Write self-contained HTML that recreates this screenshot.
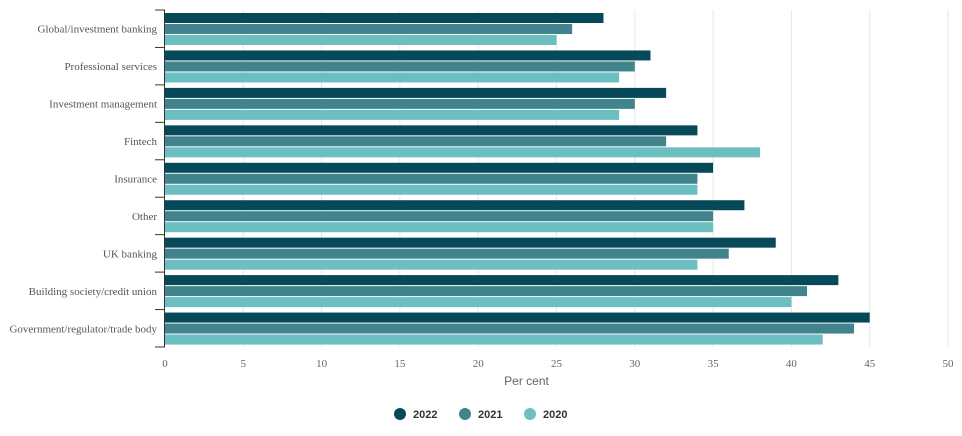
<!DOCTYPE html>
<html><head><meta charset="utf-8"><style>
body{margin:0;background:#fff;width:962px;height:431px;overflow:hidden}
svg text{font-family:"Liberation Serif",serif}
</style></head><body>
<svg id="chart" width="962" height="431"></svg>
<script>
const categories=["Global/investment banking","Professional services","Investment management","Fintech","Insurance","Other","UK banking","Building society/credit union","Government/regulator/trade body"];
const series2022=[28,31,32,34,35,37,39,43,45];
const series2021=[26,30,30,32,34,35,36,41,44];
const series2020=[25,29,29,38,34,35,34,40,42];
const seriesNames=["2022","2021","2020"];
const xTicks=[0,5,10,15,20,25,30,35,40,45,50];
const colors=["#064a5a","#41848e","#6cbfc0"];
const svg=document.getElementById('chart');
const NS="http://www.w3.org/2000/svg";
const x0=165,x1=948,top0=10,bot=347;
const xs=v=>x0+(v-0)/(50-0)*(x1-x0);
const band=(bot-top0)/categories.length;
function mk(t,a,p){const e=document.createElementNS(NS,t);for(const k in a)e.setAttribute(k,a[k]);(p||svg).appendChild(e);return e;}
xTicks.forEach(t=>{
  if(t>0){const g=mk('line',{x1:xs(t),x2:xs(t),y1:top0,y2:bot,stroke:'#e6e6e6','stroke-width':1});
  
  }
  const tx=mk('text',{x:xs(t),y:367,'text-anchor':'middle','font-size':11,fill:'#666'});
  tx.textContent=t;
  
  
});
const all=[series2022,series2021,series2020];
categories.forEach((c,i)=>{
  const y=top0+i*band;
  all.forEach((s,j)=>{
    const r=mk('rect',{x:x0,y:y+3+j*11,width:xs(s[i])-x0,height:10,fill:colors[j]});
    
    
  });
  const l=mk('text',{x:157,y:y+band/2+4,'text-anchor':'end','font-size':11,fill:'#555'});
  l.textContent=c;
  
  
});
for(let i=0;i<=categories.length;i++){
  const y=top0+i*band;
  const t=mk('line',{x1:155,x2:165,y1:y,y2:y,stroke:'#333','stroke-width':1});
  
  
}
const ax=mk('line',{x1:164.5,x2:164.5,y1:top0,y2:bot,stroke:'#333','stroke-width':1});


const xt=mk('text',{x:(x0+x1)/2-30,y:385,'text-anchor':'middle','font-size':12,fill:'#666','font-family':'Liberation Sans'});
xt.setAttribute('style','font-family:"Liberation Sans",sans-serif');
xt.textContent="Per cent";


const lx=[400,465,530];
seriesNames.forEach((n,j)=>{
  const c=mk('circle',{cx:lx[j],cy:414,r:6,fill:colors[j]});
  
  
  const t=mk('text',{x:lx[j]+13,y:418,'font-size':11,'font-weight':'bold',fill:'#333',style:'font-family:"Liberation Sans",sans-serif'});
  t.textContent=n;
  
  
});
</script>
</body></html>
